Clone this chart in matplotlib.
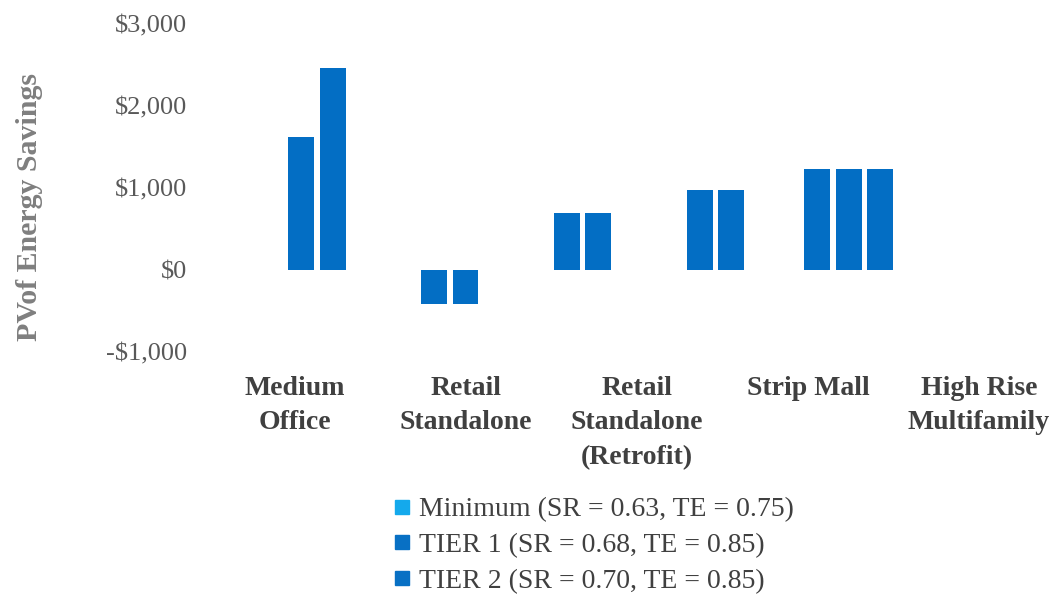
"""PV of energy savings by building type, grouped bar chart."""

import matplotlib
matplotlib.use("Agg")
import matplotlib.pyplot as plt
from matplotlib.lines import Line2D
import numpy as np

categories = ["Medium\nOffice", "Retail\nStandalone", "Retail\nStandalone\n(Retrofit)",
              "Strip Mall", "High Rise\nMultifamily"]
series_names = ["Minimum (SR = 0.63, TE = 0.75)",
                "TIER 1 (SR = 0.68, TE = 0.85)",
                "TIER 2 (SR = 0.70, TE = 0.85)"]
minimum = [np.nan, np.nan, np.nan, np.nan, 1230]
tier1 = [1620, -420, 700, 980, 1230]
tier2 = [2460, -420, 700, 980, 1230]
yticks = [-1000, 0, 1000, 2000, 3000]
ytick_labels = ["-\\$1,000", "\\$0", "\\$1,000", "\\$2,000", "\\$3,000"]

bar_color = "#036ec4"
legend_colors = ["#14a9ec", "#0870c4", "#0870c4"]

plt.rcParams["font.family"] = ["Liberation Serif", "DejaVu Serif"]

W, H = 1052, 594
fig = plt.figure(figsize=(W / 100, H / 100), dpi=100)
rect = [200 / W, 1 - 352 / H, 840 / W, 328 / H]
ax = fig.add_axes(rect)

series = [minimum, tier1, tier2]
step, width = 0.235, 0.195
for i in range(len(categories)):
    present = [s for s in range(len(series)) if not np.isnan(series[s][i])]
    n = len(present)
    for k, s in enumerate(present):
        x = i + (k - (n - 1) / 2) * step
        ax.bar(x, series[s][i], width=width, color=bar_color, linewidth=0)

ax.set_xlim(-0.88, 5.44)
ax.set_ylim(-1000, 3000)
ax.set_yticks(yticks)
ax.set_yticklabels(ytick_labels)
ax.set_xticks([])
ax.tick_params(axis="y", length=0, pad=9, labelsize=19, labelcolor="#595959")
for sp in ax.spines.values():
    sp.set_visible(False)

# category labels sit on their own scale, as in the original picture
lab = fig.add_axes(rect, frameon=False)
lab.patch.set_alpha(0)
lab.set_xlim(-0.556, 4.357)
lab.set_xticks(range(len(categories)))
lab.set_xticklabels(categories, fontsize=20, fontweight="bold", color="#404040",
                    linespacing=1.5)
lab.set_yticks([])
lab.tick_params(axis="x", length=0, pad=17)

fig.text(30 / W, 1 - 207 / H, "PVof Energy Savings", rotation=90, ha="center",
         va="center", fontsize=21.5, fontweight="bold", color="#7f7f7f")

handles = [Line2D([], [], marker="s", linestyle="none", markersize=10, color=c)
           for c in legend_colors]
fig.legend(handles, series_names, loc="upper left",
           bbox_to_anchor=(394 / W, 1 - 497 / H), frameon=False, fontsize=20,
           labelcolor="#404040", handlelength=0.6, handletextpad=0.3,
           labelspacing=0.37, borderaxespad=0, borderpad=0)

plt.savefig("out.png", dpi=100)
plt.close()
